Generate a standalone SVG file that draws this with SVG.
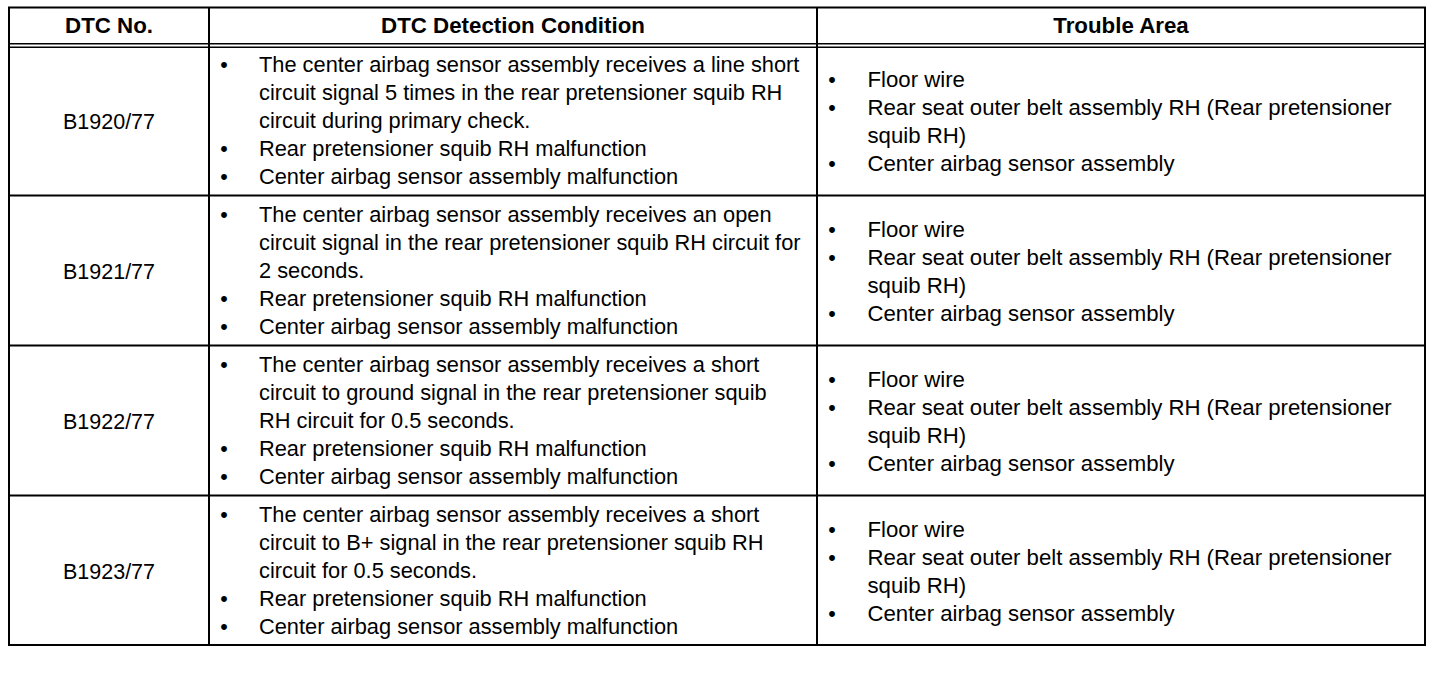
<svg xmlns="http://www.w3.org/2000/svg" width="1456" height="680" viewBox="0 0 1456 680">
<style>
text{font-family:"Liberation Sans",Arial,sans-serif;font-size:21.5px;fill:#000}
.h{font-weight:bold;text-anchor:middle;font-size:22.3px}
.c{text-anchor:middle}
.b{text-anchor:middle}
.k{font-size:21.8px}
.t{font-size:22.2px}
.ln{stroke:#000;stroke-width:2;fill:none}
.dl{stroke:#000;stroke-width:1.5;fill:none}
</style>
<rect width="1456" height="680" fill="#fff"/>
<g id="grid">
<rect class="ln" x="9" y="7.5" width="1416" height="637.5"/>
<line class="dl" x1="9" y1="43.7" x2="1425" y2="43.7"/>
<line class="dl" x1="9" y1="47.2" x2="1425" y2="47.2"/>
<line class="ln" x1="9" y1="195.5" x2="1425" y2="195.5"/>
<line class="ln" x1="9" y1="345.5" x2="1425" y2="345.5"/>
<line class="ln" x1="9" y1="495.5" x2="1425" y2="495.5"/>
<line class="ln" x1="209" y1="7.5" x2="209" y2="645"/>
<line class="ln" x1="817" y1="7.5" x2="817" y2="645"/>
</g>
<g id="header">
<text class="h" x="109" y="33">DTC No.</text>
<text class="h" x="513" y="33">DTC Detection Condition</text>
<text class="h" x="1121" y="33">Trouble Area</text>
</g>
<g id="row1">
<text class="c" x="109" y="128.5">B1920/77</text>
<text class="b" x="224" y="71.7">•</text>
<text class="k" x="259" y="71.7">The center airbag sensor assembly receives a line short</text>
<text class="k" x="259" y="99.7">circuit signal 5 times in the rear pretensioner squib RH</text>
<text class="k" x="259" y="127.7">circuit during primary check.</text>
<text class="b" x="224" y="155.7">•</text>
<text class="k" x="259" y="155.7">Rear pretensioner squib RH malfunction</text>
<text class="b" x="224" y="183.7">•</text>
<text class="k" x="259" y="183.7">Center airbag sensor assembly malfunction</text>
<text class="b" x="832" y="86.5">•</text>
<text class="t" x="867.5" y="86.5">Floor wire</text>
<text class="b" x="832" y="114.5">•</text>
<text class="t" x="867.5" y="114.5">Rear seat outer belt assembly RH (Rear pretensioner</text>
<text class="t" x="867.5" y="142.5">squib RH)</text>
<text class="b" x="832" y="170.5">•</text>
<text class="t" x="867.5" y="170.5">Center airbag sensor assembly</text>
</g>
<g id="row2">
<text class="c" x="109" y="278.5">B1921/77</text>
<text class="b" x="224" y="221.7">•</text>
<text class="k" x="259" y="221.7">The center airbag sensor assembly receives an open</text>
<text class="k" x="259" y="249.7">circuit signal in the rear pretensioner squib RH circuit for</text>
<text class="k" x="259" y="277.7">2 seconds.</text>
<text class="b" x="224" y="305.7">•</text>
<text class="k" x="259" y="305.7">Rear pretensioner squib RH malfunction</text>
<text class="b" x="224" y="333.7">•</text>
<text class="k" x="259" y="333.7">Center airbag sensor assembly malfunction</text>
<text class="b" x="832" y="236.5">•</text>
<text class="t" x="867.5" y="236.5">Floor wire</text>
<text class="b" x="832" y="264.5">•</text>
<text class="t" x="867.5" y="264.5">Rear seat outer belt assembly RH (Rear pretensioner</text>
<text class="t" x="867.5" y="292.5">squib RH)</text>
<text class="b" x="832" y="320.5">•</text>
<text class="t" x="867.5" y="320.5">Center airbag sensor assembly</text>
</g>
<g id="row3">
<text class="c" x="109" y="428.5">B1922/77</text>
<text class="b" x="224" y="371.7">•</text>
<text class="k" x="259" y="371.7">The center airbag sensor assembly receives a short</text>
<text class="k" x="259" y="399.7">circuit to ground signal in the rear pretensioner squib</text>
<text class="k" x="259" y="427.7">RH circuit for 0.5 seconds.</text>
<text class="b" x="224" y="455.7">•</text>
<text class="k" x="259" y="455.7">Rear pretensioner squib RH malfunction</text>
<text class="b" x="224" y="483.7">•</text>
<text class="k" x="259" y="483.7">Center airbag sensor assembly malfunction</text>
<text class="b" x="832" y="386.5">•</text>
<text class="t" x="867.5" y="386.5">Floor wire</text>
<text class="b" x="832" y="414.5">•</text>
<text class="t" x="867.5" y="414.5">Rear seat outer belt assembly RH (Rear pretensioner</text>
<text class="t" x="867.5" y="442.5">squib RH)</text>
<text class="b" x="832" y="470.5">•</text>
<text class="t" x="867.5" y="470.5">Center airbag sensor assembly</text>
</g>
<g id="row4">
<text class="c" x="109" y="578.5">B1923/77</text>
<text class="b" x="224" y="521.7">•</text>
<text class="k" x="259" y="521.7">The center airbag sensor assembly receives a short</text>
<text class="k" x="259" y="549.7">circuit to B+ signal in the rear pretensioner squib RH</text>
<text class="k" x="259" y="577.7">circuit for 0.5 seconds.</text>
<text class="b" x="224" y="605.7">•</text>
<text class="k" x="259" y="605.7">Rear pretensioner squib RH malfunction</text>
<text class="b" x="224" y="633.7">•</text>
<text class="k" x="259" y="633.7">Center airbag sensor assembly malfunction</text>
<text class="b" x="832" y="536.5">•</text>
<text class="t" x="867.5" y="536.5">Floor wire</text>
<text class="b" x="832" y="564.5">•</text>
<text class="t" x="867.5" y="564.5">Rear seat outer belt assembly RH (Rear pretensioner</text>
<text class="t" x="867.5" y="592.5">squib RH)</text>
<text class="b" x="832" y="620.5">•</text>
<text class="t" x="867.5" y="620.5">Center airbag sensor assembly</text>
</g>
</svg>
